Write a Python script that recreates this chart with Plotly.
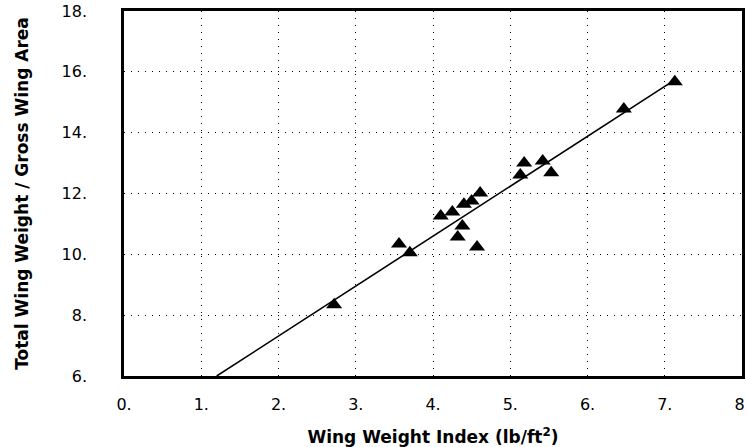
import plotly.graph_objects as go

# Data
wing_index = [2.72, 3.56, 3.70, 4.10, 4.25, 4.40, 4.50, 4.61, 4.38, 4.32, 4.57,
              5.13, 5.18, 5.42, 5.53, 6.47, 7.13]
weight_per_area = [8.34, 10.34, 10.05, 11.26, 11.39, 11.65, 11.75, 12.02, 10.93, 10.57, 10.24,
                   12.61, 13.00, 13.07, 12.68, 14.78, 15.67]

fit_x = [1.20, 7.12]
fit_y = [6.00, 15.72]

x_ticks = [0, 1, 2, 3, 4, 5, 6, 7, 8]
x_tick_labels = ["0.", "1.", "2.", "3.", "4.", "5.", "6.", "7.", "8."]
y_ticks = [6, 8, 10, 12, 14, 16, 18]
y_tick_labels = ["6.", "8.", "10.", "12.", "14.", "16.", "18."]

fig = go.Figure()
fig.add_trace(go.Scatter(x=fit_x, y=fit_y, mode="lines",
                         line=dict(color="black", width=1.6), showlegend=False))
fig.add_trace(go.Scatter(x=wing_index, y=weight_per_area, mode="markers",
                         marker=dict(symbol="triangle-up", size=14, color="black"),
                         showlegend=False))

tick_font = dict(family="DejaVu Sans", size=16, color="black")
title_font = dict(family="DejaVu Sans", size=17, color="black", weight="bold")

fig.update_layout(
    width=746, height=447,
    margin=dict(l=124, r=4, t=11, b=71),
    paper_bgcolor="white", plot_bgcolor="white",
    xaxis=dict(range=[0, 8], tickvals=x_ticks, ticktext=x_tick_labels,
               tickfont=tick_font, showgrid=True, gridcolor="black", gridwidth=1,
               griddash="1px,6px", zeroline=False, showline=True, linecolor="black",
               linewidth=2.5, mirror=True, ticks="", ticklabelstandoff=12,
               automargin=False, ticklabeloverflow="allow",
               title=dict(text="Wing Weight Index (lb/ft<sup>2</sup>)", font=title_font,
                          standoff=20)),
    yaxis=dict(range=[6, 18], tickvals=y_ticks, ticktext=y_tick_labels,
               tickfont=tick_font, showgrid=True, gridcolor="black", gridwidth=1,
               griddash="1px,6px", zeroline=False, showline=True, linecolor="black",
               linewidth=2.5, mirror=True, ticks="", ticklabelstandoff=31,
               automargin=False, ticklabeloverflow="allow",
               title=dict(text="Total Wing Weight / Gross Wing Area", font=title_font,
                          standoff=29)),
)

# remove the browser's default 8px body margin so the figure fills the window
fig.write_html("out.html", config={"displayModeBar": False},
               post_script="document.body.style.margin='0';")
